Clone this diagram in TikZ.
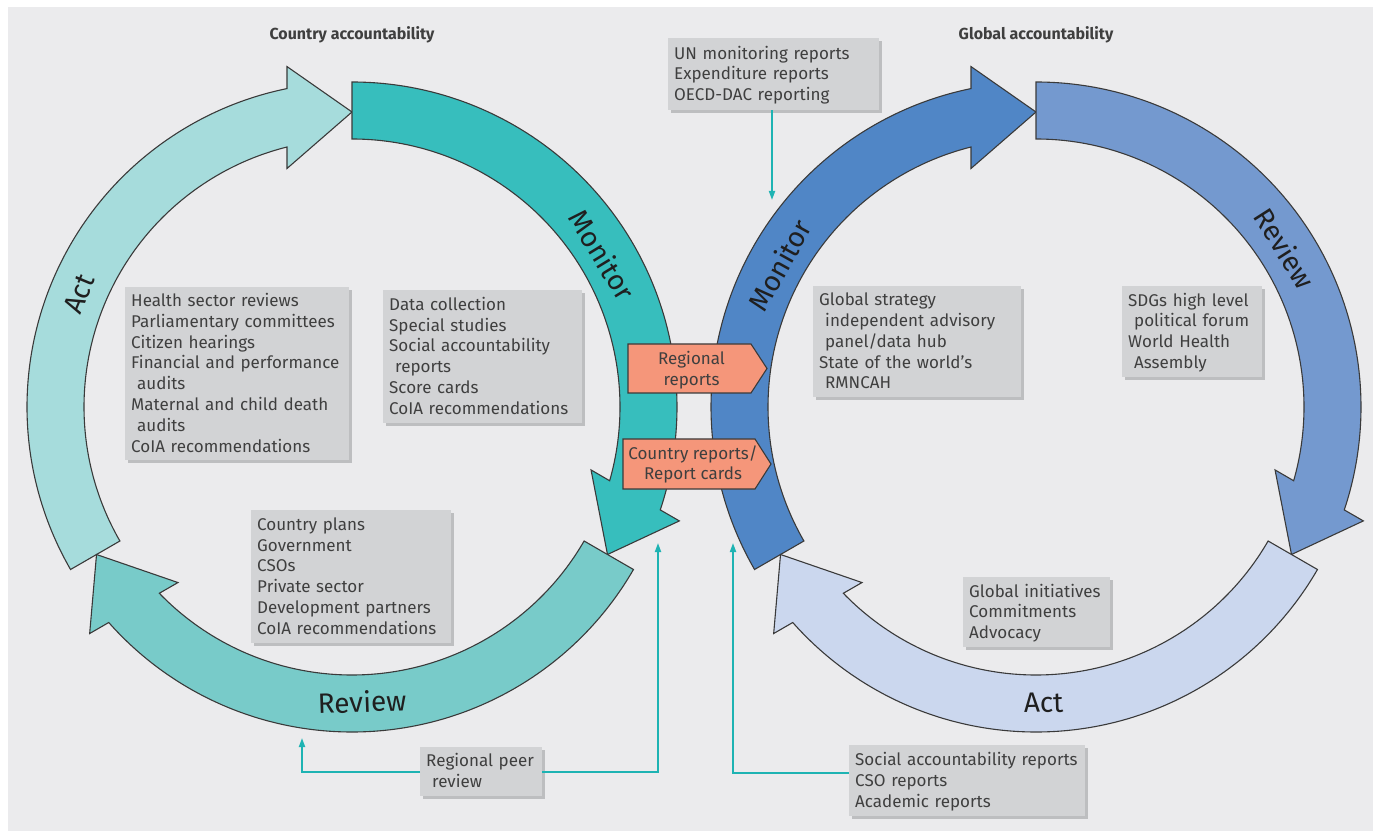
\documentclass[tikz,border=0pt]{standalone}
\usepackage{fontspec}
\setmainfont{Fira Sans}
\usetikzlibrary{arrows.meta,shadows}
\definecolor{bg}{HTML}{EBEBED}
\definecolor{boxg}{HTML}{D2D3D5}
\definecolor{shg}{HTML}{BDBEC0}
\definecolor{txt}{HTML}{3F3F3F}
\definecolor{actL}{HTML}{A6DCDC}
\definecolor{monL}{HTML}{37BEBD}
\definecolor{revL}{HTML}{78CBC9}
\definecolor{monR}{HTML}{5086C6}
\definecolor{revR}{HTML}{7499CF}
\definecolor{actR}{HTML}{CBD7EE}
\definecolor{orng}{HTML}{F5967A}
\definecolor{connc}{HTML}{1EB3B3}
\definecolor{edgec}{HTML}{3A3A3A}
% #1,#2 centre, #3 tip angle, #4 fill colour
\newcommand\cycarrow[4]{%
  \begin{scope}[shift={(#1,#2)}]
    \draw[arrowband, fill=#4] ({#3+120}:325)
      arc[start angle={#3+120}, end angle={#3+11.54}, radius=325]
      -- ({#3+10.81}:346.6) -- ({#3}:295) -- ({#3+15.25}:247.2)
      -- ({#3+14.03}:268)
      arc[start angle={#3+14.03}, end angle={#3+120}, radius=268] -- cycle;
  \end{scope}}
\begin{document}
\begin{tikzpicture}[x=1pt,y=1pt,
  arrowband/.style={draw=edgec, line width=1.1pt, line join=miter},
  gbox/.style={fill=boxg, anchor=north west, inner xsep=6pt, inner ysep=0pt,
    align=left, font=\fontsize{17}{20.8}\selectfont, text=txt,
    drop shadow={shadow xshift=3pt, shadow yshift=-3pt, fill=shg, opacity=1},
    execute at begin node=\rule{0pt}{17.5pt}, execute at end node=\strut},
  cyclbl/.style={font=\fontsize{28}{30}\selectfont, text=black!88, inner sep=0pt},
  ttl/.style={font=\bfseries\fontsize{16}{18}\selectfont, text=txt},
  obox/.style={fill=orng, draw=edgec, line width=1.1pt},
  otext/.style={align=center, font=\fontsize{17}{20.8}\selectfont, text=txt, inner sep=0pt},
  connl/.style={draw=connc, line width=1.8pt, -{Triangle[length=9pt,width=6pt]}}]
\useasboundingbox (0,0) rectangle (1373,831);
\fill[bg] (8,0) rectangle (1373,824);

% titles
\node[ttl] (ctitle) at (352,796) {Country accountability};
\node[ttl] (gtitle) at (1036,796) {Global accountability};

% left cycle
\cycarrow{352}{424}{90}{actL}
\cycarrow{352}{424}{-30}{monL}
\cycarrow{352}{424}{210}{revL}
% right cycle
\cycarrow{1036}{424}{90}{monR}
\cycarrow{1036}{424}{-30}{revR}
\cycarrow{1036}{424}{210}{actR}

% cycle labels
\node[cyclbl, rotate=67.5] (lact) at (79,537) {Act};
\node[cyclbl, rotate=-58.7] (lmon) at (602.5,576.5) {Monitor};
\node[cyclbl, rotate=2] (lrev) at (362,129.5) {Review};
\node[cyclbl, rotate=61] (rmon) at (779.5,566) {Monitor};
\node[cyclbl, rotate=-57.5] (rrev) at (1285,582.5) {Review};
\node[cyclbl, rotate=1.5] (ract) at (1043.5,128) {Act};

% grey boxes
\node[gbox, text width=212pt, minimum height=173pt] (hsr) at (125,544)
  {Health sector reviews\\Parliamentary committees\\Citizen hearings\\Financial and performance\\\hspace*{6pt}audits\\Maternal and child death\\\hspace*{6pt}audits\\CoIA recommendations};
\node[gbox, text width=187pt, minimum height=133pt] (dcol) at (383,541)
  {Data collection\\Special studies\\Social accountability\\\hspace*{6pt}reports\\Score cards\\CoIA recommendations};
\node[gbox, text width=188pt, minimum height=133pt] (cpl) at (251,321)
  {Country plans\\Government\\CSOs\\Private sector\\Development partners\\CoIA recommendations};
\node[gbox, text width=110pt, minimum height=49pt] (peer) at (420,84)
  {Regional peer\\\hspace*{6pt}review};
\node[gbox, text width=199pt, minimum height=72pt] (unbox) at (668,793)
  {UN monitoring reports\\Expenditure reports\\OECD-DAC reporting};
\node[gbox, text width=196pt, minimum height=111pt] (gsb) at (813,545)
  {Global strategy\\\hspace*{6pt}independent advisory\\\hspace*{6pt}panel/data hub\\State of the world’s\\\hspace*{6pt}RMNCAH};
\node[gbox, text width=128pt, minimum height=91pt] (sdg) at (1122,545)
  {SDGs high level\\\hspace*{6pt}political forum\\World Health\\\hspace*{6pt}Assembly};
\node[gbox, text width=135pt, minimum height=70pt] (gib) at (963,254)
  {Global initiatives\\Commitments\\Advocacy};
\node[gbox, text width=224pt, minimum height=71pt] (sab) at (849,86)
  {Social accountability reports\\CSO reports\\Academic reports};

% orange report boxes
\draw[obox] (628,487) -- (751,487) -- (767,462.5) -- (751,438) -- (628,438) -- cycle;
\node[otext] (regrep) at (691.5,461) {Regional\\reports};
\draw[obox] (623,392) -- (755,392) -- (771,367) -- (755,342) -- (623,342) -- cycle;
\node[otext] (ctyrep) at (693,366.5) {Country reports/\\Report cards};

% connectors
\coordinate (untip) at (772,631);
\coordinate (peerL) at (302,93);
\coordinate (peerR) at (658,288);
\coordinate (saR) at (733,288);
\draw[connl] (unbox.south -| untip) -- (untip);
\draw[connl] (peer.west) -| (peerL);
\draw[connl] (peer.east) -| (peerR);
\draw[connl] ([yshift=7.5pt]sab.west) -| (saR);
\end{tikzpicture}
\end{document}
